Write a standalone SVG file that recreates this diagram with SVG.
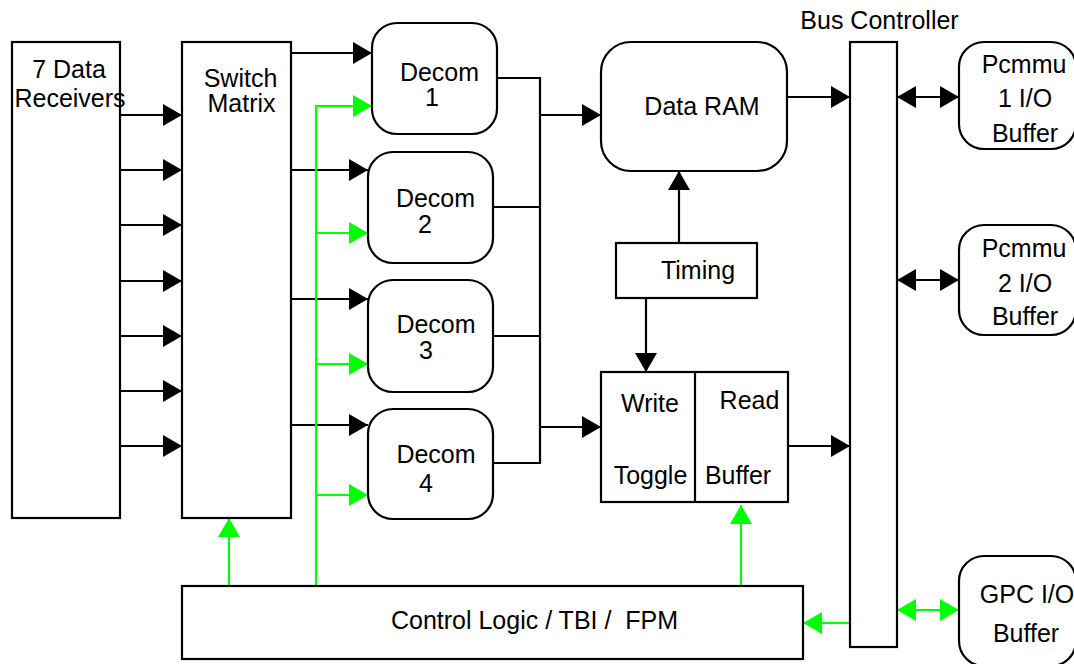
<svg xmlns="http://www.w3.org/2000/svg" width="1074" height="664" viewBox="0 0 1074 664">
<style>
.box{fill:#fff;stroke:#000;stroke-width:2.2}
.t{font-family:"Liberation Sans",Arial,sans-serif;font-size:25px;fill:#000;text-anchor:middle}
.k{fill:none;stroke:#000;stroke-width:2.2}
.g{fill:none;stroke:#00ff00;stroke-width:2.2}
.ka{marker-end:url(#ak)}
.ga{marker-end:url(#ag)}
.kd{marker-start:url(#ak);marker-end:url(#ak)}
.gd{marker-start:url(#ag);marker-end:url(#ag)}
</style>
<defs>
<marker id="ak" viewBox="0 0 19 22" refX="19" refY="11" markerWidth="19" markerHeight="22" markerUnits="userSpaceOnUse" orient="auto-start-reverse"><path d="M0,0 L19,11 L0,22 Z" fill="#000"/></marker>
<marker id="ag" viewBox="0 0 19 22" refX="19" refY="11" markerWidth="19" markerHeight="22" markerUnits="userSpaceOnUse" orient="auto-start-reverse"><path d="M0,0 L19,11 L0,22 Z" fill="#00ff00"/></marker>
</defs>
<rect width="1074" height="664" fill="#fff"/>
<g id="connectors">
<path class="k ka" d="M120,115 H182"/>
<path class="k ka" d="M120,170 H182"/>
<path class="k ka" d="M120,225 H182"/>
<path class="k ka" d="M120,281 H182"/>
<path class="k ka" d="M120,336 H182"/>
<path class="k ka" d="M120,391 H182"/>
<path class="k ka" d="M120,446 H182"/>
<path class="k ka" d="M291,53 H372"/>
<path class="k ka" d="M291,170 H368"/>
<path class="k ka" d="M291,299 H368"/>
<path class="k ka" d="M291,425 H368"/>
<path class="k" d="M497,78 H540 M493,207 H540 M493,336 H540 M493,463 H540 M540,77 V464"/>
<path class="k ka" d="M540,115 H601"/>
<path class="k ka" d="M540,427 H601"/>
<path class="k ka" d="M679,243 V171"/>
<path class="k ka" d="M646,298 V372"/>
<path class="k ka" d="M787,97 H850"/>
<path class="k ka" d="M788,446 H850"/>
<path class="k kd" d="M897,97 H959"/>
<path class="k kd" d="M897,280 H959"/>
<path class="g ga" d="M229,586 V518"/>
<path class="g" d="M316,586 V105"/>
<path class="g ga" d="M316,106 H372"/>
<path class="g ga" d="M316,233 H368"/>
<path class="g ga" d="M316,364 H368"/>
<path class="g ga" d="M316,495 H368"/>
<path class="g ga" d="M741,586 V505"/>
<path class="g ga" d="M850,623 H803"/>
<path class="g gd" d="M897,610 H959"/>
</g>
<g id="receivers"><rect class="box" x="12" y="42" width="108" height="476"/><text class="t" x="69" y="78">7 Data</text><text class="t" x="70" y="107">Receivers</text></g>
<g id="switch"><rect class="box" x="182" y="42" width="109" height="476"/><text class="t" x="240.5" y="87">Switch</text><text class="t" x="241.5" y="112">Matrix</text></g>
<g id="decom1"><rect class="box" x="372" y="23" width="125" height="111" rx="25"/><text class="t" x="439.5" y="81">Decom</text><text class="t" x="432" y="106">1</text></g>
<g id="decom2"><rect class="box" x="368" y="152" width="125" height="111" rx="25"/><text class="t" x="435.5" y="207">Decom</text><text class="t" x="425" y="233">2</text></g>
<g id="decom3"><rect class="box" x="368" y="280" width="125" height="112" rx="25"/><text class="t" x="436" y="333">Decom</text><text class="t" x="426" y="359">3</text></g>
<g id="decom4"><rect class="box" x="368" y="409" width="125" height="110" rx="25"/><text class="t" x="436" y="463">Decom</text><text class="t" x="426" y="492">4</text></g>
<g id="dataram"><rect class="box" x="601" y="42" width="186" height="129" rx="30"/><text class="t" x="702" y="115">Data RAM</text></g>
<g id="timing"><rect class="box" x="616" y="243" width="141" height="55"/><text class="t" x="698" y="279">Timing</text></g>
<g id="writeread"><rect class="box" x="601" y="372" width="187" height="130"/><path class="k" d="M695,372 V502"/><text class="t" x="650" y="412">Write</text><text class="t" x="749.5" y="409">Read</text><text class="t" x="650.5" y="484">Toggle</text><text class="t" x="738" y="484">Buffer</text></g>
<g id="bus"><rect class="box" x="850" y="42" width="47" height="605"/><text class="t" x="879.5" y="29">Bus Controller</text></g>
<g id="pcmmu1"><rect class="box" x="959" y="42" width="117" height="107" rx="25"/><text class="t" x="1024" y="73">Pcmmu</text><text class="t" x="1025" y="107">1 I/O</text><text class="t" x="1025" y="142">Buffer</text></g>
<g id="pcmmu2"><rect class="box" x="959" y="225" width="117" height="110" rx="25"/><text class="t" x="1024" y="257">Pcmmu</text><text class="t" x="1025" y="292">2 I/O</text><text class="t" x="1025" y="325">Buffer</text></g>
<g id="gpc"><rect class="box" x="959" y="556" width="117" height="110" rx="25"/><text class="t" x="1027" y="603">GPC I/O</text><text class="t" x="1026" y="642">Buffer</text></g>
<g id="control"><rect class="box" x="182" y="586" width="621" height="73"/><text class="t" x="534.5" y="629">Control Logic / TBI /&#160; FPM</text></g>
</svg>
